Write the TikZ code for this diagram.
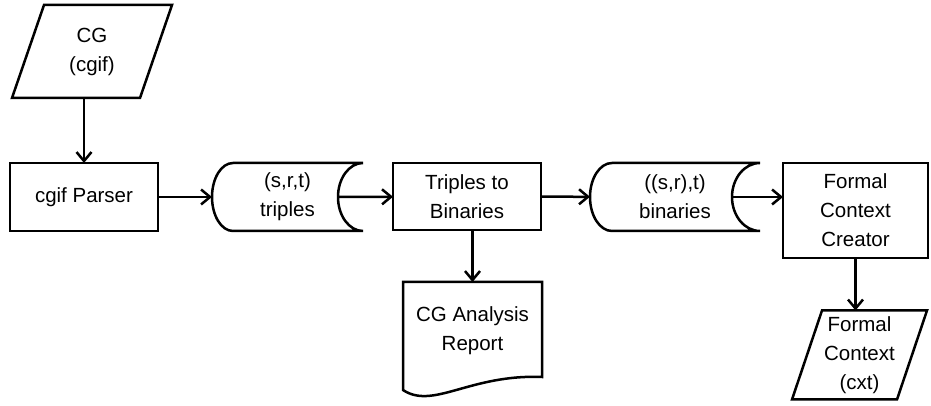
\documentclass[tikz,border=0pt]{standalone}
\usepackage{fontspec}
\setmainfont{Liberation Sans}
\usetikzlibrary{arrows.meta,positioning,calc}

\begin{document}
\begin{tikzpicture}[
  x=1pt,y=1pt,
  font=\fontsize{20.5}{29}\selectfont,
  every node/.style={align=center,inner sep=0pt,outer sep=0pt},
  line/.style={line width=2.5pt,line join=miter},
  box/.style={draw,line width=2.5pt,minimum height=68pt},
  io/.style={minimum height=90pt},
  store/.style={minimum height=68pt},
  arr/.style={-{Straight Barb[length=9pt,width=15pt]},line width=2.5pt}
]
\useasboundingbox (0,0) rectangle (931,406);

\node[io,minimum width=160pt,minimum height=93pt] (cg) at (92,354.5) {CG\\(cgif)};
\node[box,minimum width=148pt] (parser) at (84,209) {cgif Parser};
\node[store,minimum width=151pt] (trip) at (287.5,209) {(s,r,t)\\triples};
\node[box,minimum width=148pt,minimum height=67pt] (t2b) at (467,209.5) {Triples to\\Binaries};
\node[store,minimum width=170pt] (bin) at (675,209) {((s,r),t)\\binaries};
\node[box,minimum width=145pt,minimum height=95pt] (fcc) at (855.5,195.5) {Formal\\Context\\Creator};
\node[minimum width=139pt,minimum height=98pt] (rep) at (472.5,75) {CG Analysis\\Report};
\node[io,minimum width=135pt,minimum height=89pt] (fc) at (859.5,51) {Formal\\Context\\(cxt)};

% parallelograms for input / output data
\foreach \n/\s in {cg/32,fc/30}
  \draw[line] ($(\n.north west)+(\s,0)$) -- (\n.north east)
    -- ($(\n.south east)-(\s,0)$) -- (\n.south west) -- cycle;

% stored data outlines (left bulge, right hollow)
\foreach \n/\a/\b in {trip/21/25,bin/22/28}
  \draw[line] (\n.north east) -- ($(\n.north west)+(\a,0)$)
    arc[start angle=90,end angle=270,x radius=\a,y radius=34]
    -- (\n.south east) arc[start angle=270,end angle=90,x radius=\b,y radius=34];
\coordinate (tripout) at ($(trip.east)+(-25,0)$);
\coordinate (binout) at ($(bin.east)+(-28,0)$);

% report (document with wavy bottom)
\draw[line] (rep.north east) -- (rep.north west) -- ++(0,-108)
  .. controls +(30,-20) and +(-72,3) .. ($(rep.north east)+(0,-95)$) -- cycle;

\draw[arr] (parser.north |- cg.south) -- (parser.north);
\draw[arr] (parser) -- (trip);
\draw[arr] (tripout) -- (t2b);
\draw[arr] (t2b) -- (bin);
\draw[arr] (binout) -- (binout -| fcc.west);
\draw[arr] (rep.north |- t2b.south) -- (rep.north);
\draw[arr] (fcc.south) -- (fcc.south |- fc.north);
\end{tikzpicture}
\end{document}
